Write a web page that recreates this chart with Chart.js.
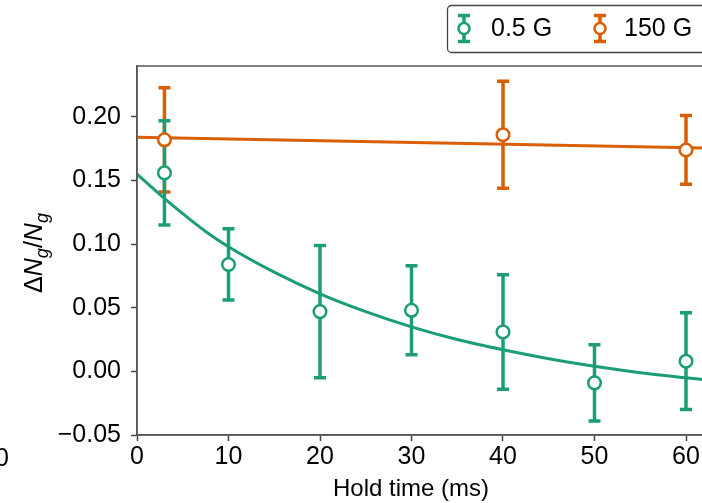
<!DOCTYPE html>
<html>
<head>
<meta charset="utf-8">
<script src="https://cdn.jsdelivr.net/npm/chart.js@4"></script>
<style>
  html, body { margin: 0; padding: 0; background: #fff; overflow: hidden; }
  #wrap { position: relative; width: 702px; height: 503px; overflow: hidden; }
  #wrap canvas { position: absolute; left: 0; top: 0; }
</style>
</head>
<body>
<div id="wrap"><canvas id="holdChart" width="720" height="503"></canvas></div>
<script>
// measured points, 0.5 G
const holdTimes05 = [3, 10, 20, 30, 40, 50, 60];
const ratio05 = [0.156, 0.084, 0.047, 0.048, 0.031, -0.009, 0.008];
const err05 = [0.041, 0.028, 0.052, 0.035, 0.045, 0.030, 0.038];

// measured points, 150 G
const holdTimes150 = [3, 40, 60];
const ratio150 = [0.182, 0.186, 0.174];
const err150 = [0.041, 0.042, 0.027];

// fit curves
const fitTimes05 = [0, 2.5, 5, 7.5, 10, 15, 20, 25, 30, 35, 40, 45, 50, 55, 60, 62];
const fit05 = [0.155, 0.139, 0.124, 0.110, 0.098, 0.078, 0.061, 0.047, 0.035, 0.025, 0.017, 0.010, 0.004, -0.001, -0.005, -0.0065];
const fitTimes150 = [0, 62];
const fit150 = [0.184, 0.1755];

const xTicks = [0, 10, 20, 30, 40, 50, 60];
const yTicks = [-0.05, 0, 0.05, 0.10, 0.15, 0.20];

const GREEN = '#1b9e77';
const ORANGE = '#d95f02';
const FONT = "'Liberation Sans', Arial, sans-serif";

const pts = (xs, ys) => xs.map((x, i) => ({ x: x, y: ys[i] }));

const errorBars = {
  id: 'errorBars',
  beforeDatasetsDraw(chart) {
    const { ctx, scales: { x, y } } = chart;
    const sets = [
      { xs: holdTimes150, ys: ratio150, es: err150, color: ORANGE },
      { xs: holdTimes05, ys: ratio05, es: err05, color: GREEN },
    ];
    ctx.save();
    sets.forEach(s => {
      ctx.strokeStyle = s.color;
      ctx.lineWidth = 3.5;
      s.xs.forEach((t, i) => {
        const px = x.getPixelForValue(t);
        const top = y.getPixelForValue(s.ys[i] + s.es[i]);
        const bot = y.getPixelForValue(s.ys[i] - s.es[i]);
        ctx.beginPath();
        ctx.moveTo(px, top); ctx.lineTo(px, bot);
        ctx.moveTo(px - 6, top); ctx.lineTo(px + 6, top);
        ctx.moveTo(px - 6, bot); ctx.lineTo(px + 6, bot);
        ctx.stroke();
      });
    });
    ctx.restore();
  },
  afterDraw(chart) {
    const { ctx, chartArea: a } = chart;
    ctx.save();
    // frame
    ctx.strokeStyle = '#555';
    ctx.lineWidth = 1.5;
    ctx.strokeRect(a.left, a.top, a.right - a.left, a.bottom - a.top);

    // x title
    ctx.fillStyle = '#000';
    ctx.font = '24px ' + FONT;
    ctx.textAlign = 'center';
    ctx.textBaseline = 'middle';
    ctx.fillText('Hold time (ms)', 411, 489);

    // neighbouring panel tick label, cut at the edge
    ctx.font = '25px ' + FONT;
    ctx.textAlign = 'right';
    ctx.fillText('0', 9, 459);

    // y title: ΔN_g/N_g
    ctx.translate(42, 253);
    ctx.rotate(-Math.PI / 2);
    const parts = [
      { t: '\u0394', f: '25px ' + FONT, dy: 0 },
      { t: 'N', f: 'italic 25px ' + FONT, dy: 0 },
      { t: 'g', f: 'italic 18px ' + FONT, dy: 6 },
      { t: '/', f: '25px ' + FONT, dy: 0 },
      { t: 'N', f: 'italic 25px ' + FONT, dy: 0 },
      { t: 'g', f: 'italic 18px ' + FONT, dy: 6 },
    ];
    let w = 0;
    parts.forEach(p => { ctx.font = p.f; w += ctx.measureText(p.t).width; });
    let cx = -w / 2;
    ctx.textAlign = 'left';
    ctx.textBaseline = 'alphabetic';
    parts.forEach(p => {
      ctx.font = p.f;
      ctx.fillText(p.t, cx, p.dy);
      cx += ctx.measureText(p.t).width;
    });
    ctx.setTransform(1, 0, 0, 1, 0, 0);

    // legend
    ctx.fillStyle = '#fff';
    ctx.strokeStyle = '#444';
    ctx.lineWidth = 1.3;
    ctx.beginPath();
    ctx.roundRect(447.5, 5.5, 290, 47, 4);
    ctx.fill();
    ctx.stroke();
    const entries = [
      { label: '0.5 G', color: GREEN, x: 464, tx: 491 },
      { label: '150 G', color: ORANGE, x: 600, tx: 624 },
    ];
    entries.forEach(e => {
      const cy = 28.5;
      ctx.strokeStyle = e.color;
      ctx.lineWidth = 3.5;
      ctx.beginPath();
      ctx.moveTo(e.x, cy - 13); ctx.lineTo(e.x, cy + 13);
      ctx.moveTo(e.x - 6, cy - 13); ctx.lineTo(e.x + 6, cy - 13);
      ctx.moveTo(e.x - 6, cy + 13); ctx.lineTo(e.x + 6, cy + 13);
      ctx.stroke();
      ctx.fillStyle = '#fff';
      ctx.lineWidth = 2.5;
      ctx.beginPath();
      ctx.arc(e.x, cy, 5.5, 0, Math.PI * 2);
      ctx.fill();
      ctx.stroke();
      ctx.fillStyle = '#000';
      ctx.font = '25px ' + FONT;
      ctx.textAlign = 'left';
      ctx.textBaseline = 'middle';
      ctx.fillText(e.label, e.tx, cy + 1);
    });
    ctx.restore();
  }
};

new Chart(document.getElementById('holdChart'), {
  type: 'line',
  data: {
    datasets: [
      {
        label: '0.5 G',
        data: pts(holdTimes05, ratio05),
        showLine: false,
        pointRadius: 6.3,
        pointBackgroundColor: '#fff',
        pointBorderColor: GREEN,
        pointBorderWidth: 2.5,
        clip: false
      },
      {
        label: '150 G',
        data: pts(holdTimes150, ratio150),
        showLine: false,
        pointRadius: 6.3,
        pointBackgroundColor: '#fff',
        pointBorderColor: ORANGE,
        pointBorderWidth: 2.5,
        clip: false
      },
      {
        label: 'fit 0.5 G',
        data: pts(fitTimes05, fit05),
        borderColor: GREEN,
        borderWidth: 3,
        pointRadius: 0,
        cubicInterpolationMode: 'monotone'
      },
      {
        label: 'fit 150 G',
        data: pts(fitTimes150, fit150),
        borderColor: ORANGE,
        borderWidth: 3,
        pointRadius: 0
      }
    ]
  },
  options: {
    responsive: false,
    animation: false,
    devicePixelRatio: 1,
    layout: { padding: { top: 66, right: 15.7, left: 0, bottom: 0 } },
    plugins: { legend: { display: false }, tooltip: { enabled: false } },
    scales: {
      x: {
        type: 'linear',
        min: 0,
        max: 62,
        afterFit: s => { s.height = 68; },
        afterBuildTicks: s => { s.ticks = xTicks.map(v => ({ value: v })); },
        ticks: { color: '#000', font: { family: FONT, size: 25 }, padding: 1, callback: v => String(v) },
        grid: { drawOnChartArea: false, drawTicks: true, tickLength: 6, tickColor: '#444', tickWidth: 1.5 },
        border: { color: '#555', width: 1.5 }
      },
      y: {
        min: -0.05,
        max: 0.24,
        afterFit: s => { s.width = 137; },
        afterBuildTicks: s => { s.ticks = yTicks.map(v => ({ value: v })); },
        ticks: {
          color: '#000',
          font: { family: FONT, size: 25 },
          padding: 10,
          callback: v => (v < 0 ? '\u2212' : '') + Math.abs(v).toFixed(2)
        },
        grid: { drawOnChartArea: false, drawTicks: true, tickLength: 6, tickColor: '#444', tickWidth: 1.5 },
        border: { color: '#555', width: 1.5 }
      }
    }
  },
  plugins: [errorBars]
});
</script>
</body>
</html>
